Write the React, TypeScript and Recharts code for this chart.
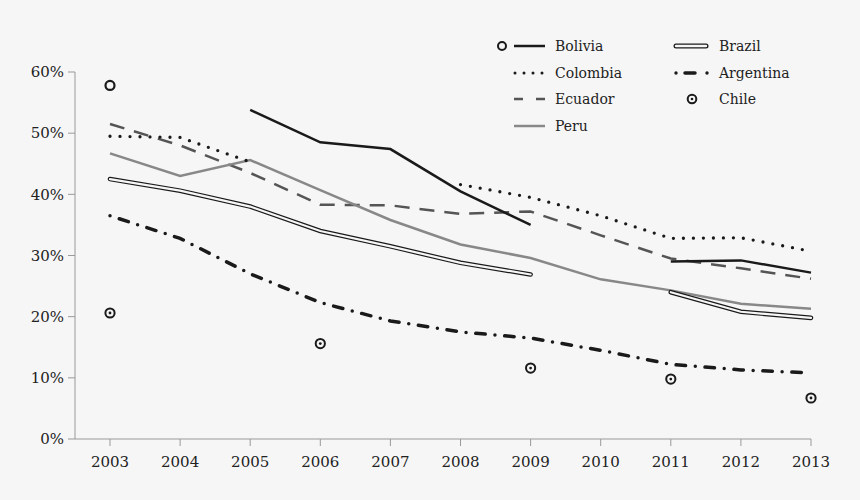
import React from 'react';
import { LineChart, Line, XAxis, YAxis } from 'recharts';

const years = [2003, 2004, 2005, 2006, 2007, 2008, 2009, 2010, 2011, 2012, 2013];

const bolivia = [57.8, null, 53.8, 48.5, 47.4, 40.5, 35.0, null, 29.0, 29.2, 27.2];
const colombia = [49.5, 49.3, 45.3, null, null, 41.6, 39.5, 36.5, 32.8, 32.9, 30.7];
const ecuador = [51.5, 48.0, 43.5, 38.3, 38.2, 36.8, 37.2, 33.3, 29.5, 27.9, 26.2];
const peru = [46.7, 43.0, 45.6, 40.7, 35.8, 31.8, 29.6, 26.1, 24.3, 22.1, 21.3];
const brazil = [42.5, 40.6, 38.0, 34.0, 31.5, 28.8, 26.9, null, 24.0, 20.8, 19.8];
const argentina = [36.5, 32.8, 27.0, 22.3, 19.3, 17.5, 16.5, 14.5, 12.2, 11.3, 10.8];
const chile = [20.6, null, null, 15.6, null, null, 11.6, null, 9.8, null, 6.7];

const yTicks = [0, 10, 20, 30, 40, 50, 60];

const data = years.map((year, i) => ({
  year,
  bolivia: bolivia[i],
  colombia: colombia[i],
  ecuador: ecuador[i],
  peru: peru[i],
  brazil: brazil[i],
  argentina: argentina[i],
  chile: chile[i],
}));

const BG = '#f6f6f6';
const FONT = '"DejaVu Serif", serif';
const TEXT = '#222';

// open circle only where a Bolivia value has no neighbours
const boliviaDot = (props: any) => {
  const { cx, cy, index } = props;
  const prev = index > 0 ? bolivia[index - 1] : null;
  const next = index < bolivia.length - 1 ? bolivia[index + 1] : null;
  if (bolivia[index] == null || prev != null || next != null || cy == null) {
    return <g key={`b-${index}`} />;
  }
  return <circle key={`b-${index}`} cx={cx} cy={cy} r={4.5} fill="none" stroke="#1a1a1a" strokeWidth={2.2} />;
};

const chileDot = (props: any) => {
  const { cx, cy, index } = props;
  if (chile[index] == null || cy == null) return <g key={`c-${index}`} />;
  return (
    <g key={`c-${index}`}>
      <circle cx={cx} cy={cy} r={4.6} fill="none" stroke="#1a1a1a" strokeWidth={2} />
      <circle cx={cx} cy={cy} r={1.4} fill="#1a1a1a" />
    </g>
  );
};

const legendRows = [
  { label: 'Bolivia', x: 490, y: 46, kind: 'bolivia' },
  { label: 'Colombia', x: 490, y: 73, kind: 'colombia' },
  { label: 'Ecuador', x: 490, y: 99, kind: 'ecuador' },
  { label: 'Peru', x: 490, y: 126, kind: 'peru' },
  { label: 'Brazil', x: 670, y: 46, kind: 'brazil' },
  { label: 'Argentina', x: 670, y: 73, kind: 'argentina' },
  { label: 'Chile', x: 670, y: 99, kind: 'chile' },
];

const LegendIcon = ({ kind }: { kind: string }) => {
  const w = 60;
  const h = 14;
  const m = 7;
  let body: React.ReactNode = null;
  if (kind === 'bolivia') {
    body = (
      <>
        <circle cx={12} cy={m} r={4} fill="none" stroke="#1a1a1a" strokeWidth={2} />
        <line x1={24} y1={m} x2={55} y2={m} stroke="#1a1a1a" strokeWidth={2.5} />
      </>
    );
  } else if (kind === 'colombia') {
    body = <line x1={25} y1={m} x2={55} y2={m} stroke="#1a1a1a" strokeWidth={3} strokeDasharray="0 9" strokeLinecap="round" />;
  } else if (kind === 'ecuador') {
    body = <line x1={24} y1={m} x2={56} y2={m} stroke="#555" strokeWidth={2.5} strokeDasharray="9 13" />;
  } else if (kind === 'peru') {
    body = <line x1={24} y1={m} x2={55} y2={m} stroke="#888" strokeWidth={2.5} />;
  } else if (kind === 'brazil') {
    body = (
      <>
        <line x1={6} y1={m} x2={36} y2={m} stroke="#1a1a1a" strokeWidth={5} strokeLinecap="round" />
        <line x1={6} y1={m} x2={36} y2={m} stroke={BG} strokeWidth={2.4} strokeLinecap="round" />
      </>
    );
  } else if (kind === 'argentina') {
    body = (
      <>
        <circle cx={6} cy={m} r={1.7} fill="#1a1a1a" />
        <line x1={15} y1={m} x2={25} y2={m} stroke="#1a1a1a" strokeWidth={3.5} strokeLinecap="round" />
        <circle cx={37} cy={m} r={1.7} fill="#1a1a1a" />
      </>
    );
  } else if (kind === 'chile') {
    body = (
      <>
        <circle cx={22} cy={m} r={4.3} fill="none" stroke="#1a1a1a" strokeWidth={2} />
        <circle cx={22} cy={m} r={1.3} fill="#1a1a1a" />
      </>
    );
  }
  return (
    <svg width={w} height={h} style={{ display: 'block' }}>
      {body}
    </svg>
  );
};

export default function App() {
  return (
    <div style={{ position: 'absolute', left: 0, top: 0, width: 860, height: 500, background: BG }}>
      <LineChart width={860} height={500} data={data} margin={{ top: 72, right: 49, bottom: 31, left: 0 }}>
        <XAxis
          dataKey="year"
          type="number"
          domain={[2003, 2013]}
          ticks={years}
          padding={{ left: 35, right: 0 }}
          height={30}
          stroke="#999"
          tickSize={7}
          tickMargin={10}
          tick={{ fill: TEXT, fontFamily: FONT, fontSize: 15 }}
        />
        <YAxis
          domain={[0, 60]}
          ticks={yTicks}
          width={75}
          stroke="#999"
          tickSize={7}
          tickMargin={4}
          tickFormatter={(v: number) => `${v}%`}
          tick={{ fill: TEXT, fontFamily: FONT, fontSize: 15 }}
        />
        <Line dataKey="ecuador" stroke="#555" strokeWidth={2.5} strokeDasharray="15 10" dot={false} isAnimationActive={false} />
        <Line dataKey="peru" stroke="#888" strokeWidth={2.5} dot={false} isAnimationActive={false} />
        <Line dataKey="colombia" stroke="#1a1a1a" strokeWidth={3.3} strokeDasharray="0 10" strokeLinecap="round" dot={false} isAnimationActive={false} />
        <Line dataKey="brazil" stroke="#1a1a1a" strokeWidth={4.6} strokeLinecap="round" dot={false} isAnimationActive={false} />
        <Line dataKey="brazil" stroke={BG} strokeWidth={2.2} strokeLinecap="round" dot={false} isAnimationActive={false} />
        <Line dataKey="argentina" stroke="#1a1a1a" strokeWidth={3.5} strokeDasharray="0 9.75 9.5 9.75" strokeLinecap="round" dot={false} isAnimationActive={false} />
        <Line dataKey="bolivia" stroke="#1a1a1a" strokeWidth={2.5} dot={boliviaDot} isAnimationActive={false} />
        <Line dataKey="chile" stroke="none" dot={chileDot} isAnimationActive={false} />
      </LineChart>
      {legendRows.map((r) => (
        <div
          key={r.label}
          style={{
            position: 'absolute',
            left: r.x,
            top: r.y - 9,
            height: 18,
            display: 'flex',
            alignItems: 'center',
            fontFamily: FONT,
            fontSize: 14,
            color: TEXT,
          }}
        >
          <LegendIcon kind={r.kind} />
          <span style={{ marginLeft: r.kind === 'brazil' || r.kind === 'argentina' || r.kind === 'chile' ? -11 : 5 }}>{r.label}</span>
        </div>
      ))}
    </div>
  );
}
